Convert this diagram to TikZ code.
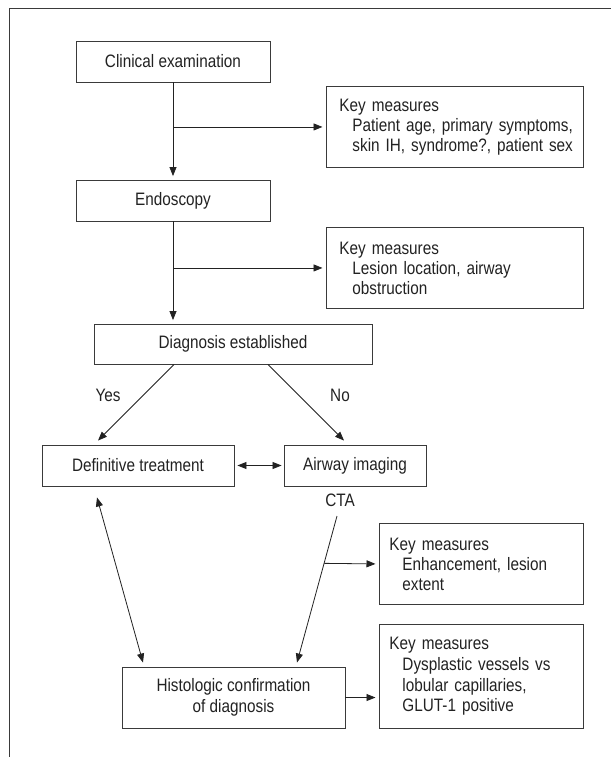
\documentclass[tikz,border=0pt]{standalone}
\usepackage{fontspec}
\setmainfont{Liberation Sans}[FakeStretch=0.85]
\usetikzlibrary{arrows.meta,calc}
\definecolor{ink}{HTML}{222222}
\definecolor{edge}{HTML}{3A3A3A}
\tikzset{
  box/.style={draw=edge, line width=0.9pt, inner sep=0pt, align=center},
  keybox/.style={draw=edge, line width=0.9pt, inner ysep=0pt, align=left, anchor=north west},
  arr/.style={draw=ink, line width=0.8pt, -{Triangle[length=9pt,width=7pt]}, shorten >=3.5pt},
  darr/.style={draw=ink, line width=0.8pt, {Triangle[length=9pt,width=7pt]}-{Triangle[length=9pt,width=7pt]}},
  lbl/.style={inner sep=0pt}
}
\newcommand{\kline}[1]{\mbox{\hspace*{13pt}#1}}
\begin{document}
\begin{tikzpicture}[x=1pt,y=-1pt,font=\fontsize{18}{20}\selectfont,text=ink]
\useasboundingbox (0,0) rectangle (611,757);
\fill[white] (0,0) rectangle (611,757);
\draw[edge, line width=1pt] (9,757) -- (9,9) -- (611,9);

\node[box, minimum width=194pt, minimum height=41pt] (clin) at (173,61.5) {Clinical examination};
\node[box, minimum width=194pt, minimum height=41pt] (endo) at (173,200.5) {Endoscopy};
\node[keybox, inner xsep=13pt, text width=231pt, minimum height=81pt] (k1) at (326,86)
  {\mbox{Key measures}\\\kline{Patient age, primary symptoms,}\\\kline{skin IH, syndrome?, patient sex}};
\node[keybox, inner xsep=13pt, text width=231pt, minimum height=81pt] (k2) at (326,227)
  {\mbox{Key measures}\\\kline{Lesion location, airway}\\\kline{obstruction}};
\node[box, minimum width=278pt, minimum height=40pt] (diag) at (233,344) {Diagnosis established};
\node[box, minimum width=192pt, minimum height=41pt] (deft) at (138,465.5) {Definitive treatment};
\node[box, minimum width=142pt, minimum height=41pt] (air) at (355,465.5) {Airway imaging};
\node[lbl] (yes) at (108,395) {Yes};
\node[lbl] (no) at (340,395) {No};
\node[lbl] (cta) at (340,500) {CTA};
\node[keybox, inner xsep=10pt, text width=184pt, minimum height=81pt] (k3) at (379,523)
  {\mbox{Key measures}\\\kline{Enhancement, lesion}\\\kline{extent}};
\node[keybox, inner xsep=10pt, text width=184pt, minimum height=104pt, font=\fontsize{18}{20.7}\selectfont] (k4) at (379,624)
  {\mbox{Key measures}\\\kline{Dysplastic vessels vs}\\\kline{lobular capillaries,}\\\kline{GLUT-1 positive}};
\node[box, minimum width=223pt, minimum height=61pt, font=\fontsize{18}{21}\selectfont] (hist) at (233.5,697.5) {Histologic confirmation\\of diagnosis};

% connectors
\draw[arr] (clin.south) -- (endo.north);
\draw[arr] (clin.south |- k1.west) -- (k1.west);
\draw[arr] (endo.south) -- (endo.south |- diag.north);
\draw[arr] (endo.south |- k2.west) -- (k2.west);
\draw[arr, shorten >=0pt] ([xshift=-59pt]diag.south) -- ([xshift=-40pt,yshift=4pt]deft.north);
\draw[arr, shorten >=0pt] ([xshift=35pt]diag.south) -- ([xshift=-11pt,yshift=4pt]air.north);
\draw[darr] ([xshift=3pt]deft.east) -- ([xshift=-2pt]air.west);
\coordinate (ctaS) at ([xshift=-3pt,yshift=-16pt]cta.center);
\coordinate (ctaE) at ([xshift=63.5pt,yshift=4pt]hist.north);
\draw[arr, shorten >=0pt] (ctaS) -- (ctaE);
\draw[arr] ($(ctaS)!0.323!(ctaE)$) -- (k3.west);
\draw[darr] ([xshift=-41pt,yshift=-11pt]deft.south) -- ([xshift=-90.5pt,yshift=4pt]hist.north);
\draw[arr] (hist.east) -- (hist.east -| k4.west);
\end{tikzpicture}
\end{document}
